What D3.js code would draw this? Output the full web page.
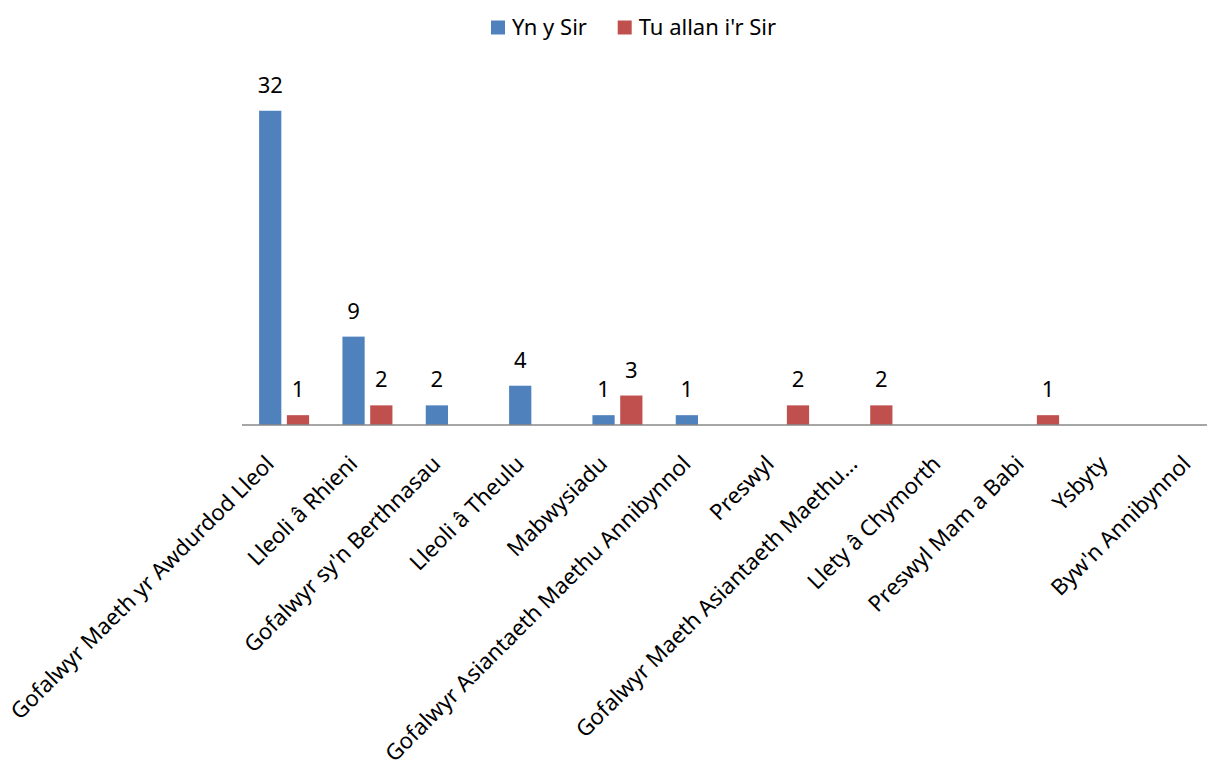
<!DOCTYPE html>
<head>
<meta charset="utf-8">
<style>
body, html {
  margin: 0;
  background: #fff;
  font-family: "Noto Sans", "Open Sans", sans-serif;
}
.lbl { font-size: 22px; fill: #000; }
.cat { font-size: 22.2px; fill: #000; }
.axis-line { stroke: #888; stroke-width: 1.5; }
</style>
<script src="https://d3js.org/d3.v7.min.js"></script>
</head>
<body>
<div id="chart"></div>
<script>

// categories and values (blank = no bar)
var categories = [
  "Gofalwyr Maeth yr Awdurdod Lleol",
  "Lleoli â Rhieni",
  "Gofalwyr sy'n Berthnasau",
  "Lleoli â Theulu",
  "Mabwysiadu",
  "Gofalwyr Asiantaeth Maethu Annibynnol",
  "Preswyl",
  "Gofalwyr Maeth Asiantaeth Maethu…",
  "Llety â Chymorth",
  "Preswyl Mam a Babi",
  "Ysbyty",
  "Byw'n Annibynnol"
];
var seriesNames = ["Yn y Sir", "Tu allan i'r Sir"];
var seriesColors = ["#4F81BD", "#C0504D"];
var ynYSir       = [32, 9, 2, 4, 1, 1, null, null, null, null, null, null];
var tuAllanIrSir = [1, 2, null, null, 3, null, 2, 2, null, 1, null, null];

var width = 1207,
    height = 770,
    baseY = 425;

var svg = d3.select("#chart").append("svg")
    .attr("width", width)
    .attr("height", height);

//--------------------------------------
// scales
var x0 = d3.scaleBand()
    .domain(categories)
    .range([242.4, 1242.4])
    .padding(0);

var x1 = d3.scaleBand()
    .domain(seriesNames)
    .range([16.7, 66.7])
    .paddingInner(0.2);

var y = d3.scaleLinear()
    .domain([0, 35])
    .range([baseY, baseY - 35 * 9.82]);

var rows = [];
categories.forEach(function(c, i) {
  rows.push({cat: c, s: seriesNames[0], v: ynYSir[i], col: seriesColors[0]});
  rows.push({cat: c, s: seriesNames[1], v: tuAllanIrSir[i], col: seriesColors[1]});
});
rows = rows.filter(function(d) { return d.v != null; });

//--------------------------------------
// bars
svg.append("g").selectAll("rect")
  .data(rows)
  .enter().append("rect")
  .attr("x", function(d) { return x0(d.cat) + x1(d.s); })
  .attr("y", function(d) { return y(d.v); })
  .attr("width", x1.bandwidth())
  .attr("height", function(d) { return y(0) - y(d.v); })
  .attr("fill", function(d) { return d.col; });

// value labels
svg.append("g").selectAll("text")
  .data(rows)
  .enter().append("text")
  .attr("class", "lbl")
  .attr("text-anchor", "middle")
  .attr("x", function(d) { return x0(d.cat) + x1(d.s) + x1.bandwidth() / 2; })
  .attr("y", function(d) { return y(d.v) - 18; })
  .text(function(d) { return d.v; });

// axis line
svg.append("line")
  .attr("class", "axis-line")
  .attr("x1", 242).attr("x2", width)
  .attr("y1", baseY).attr("y2", baseY);

// category labels, rotated
svg.append("g").selectAll("text")
  .data(categories)
  .enter().append("text")
  .attr("class", "cat")
  .attr("text-anchor", "end")
  .attr("transform", function(d) {
    return "translate(" + (x0(d) + x0.bandwidth() / 2 - 20) + "," + (baseY + 29) + ") rotate(-45)";
  })
  .attr("dy", "0.72em")
  .text(function(d) { return d; });

//--------------------------------------
// legend
var legend = svg.append("g").selectAll("g")
  .data(seriesNames)
  .enter().append("g")
  .attr("transform", function(d, i) { return "translate(" + [491, 617.7][i] + ",0)"; });

legend.append("rect")
  .attr("x", 0).attr("y", 20.5)
  .attr("width", 14).attr("height", 14)
  .attr("fill", function(d, i) { return seriesColors[i]; });

legend.append("text")
  .attr("class", "lbl")
  .attr("x", 21).attr("y", 35)
  .text(function(d) { return d; });

</script>
</body>
</html>
